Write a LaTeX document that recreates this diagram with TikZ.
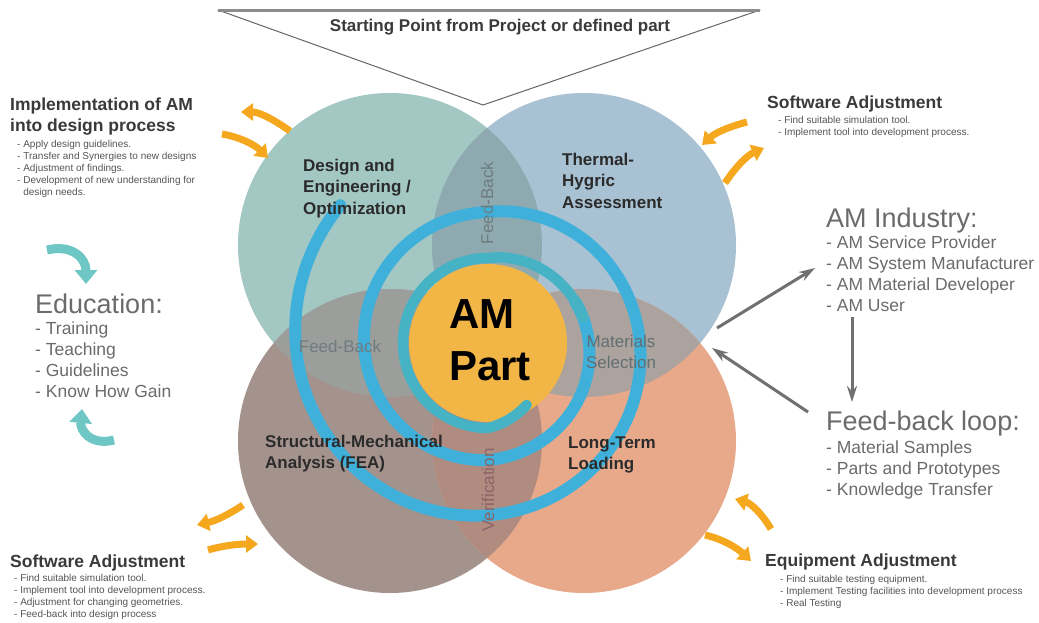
\documentclass[tikz,border=0pt]{standalone}
\usepackage{fontspec}
\setmainfont{Liberation Sans}
\usetikzlibrary{arrows.meta}
\definecolor{cTL}{HTML}{A3C8C4}
\definecolor{cTR}{HTML}{A8C2D3}
\definecolor{cBL}{HTML}{A4938D}
\definecolor{cBR}{HTML}{E8A98B}
\definecolor{cTLTR}{HTML}{8EAAB0}
\definecolor{cTLBL}{HTML}{9B9E9A}
\definecolor{cTRBR}{HTML}{ACA39F}
\definecolor{cBLBR}{HTML}{B08B80}
\definecolor{cOrange}{HTML}{F2B646}
\definecolor{cSpiral}{HTML}{3FB0DA}
\definecolor{cSpiralIn}{HTML}{46B3C4}
\definecolor{cYellow}{HTML}{F5A81E}
\definecolor{cTeal}{HTML}{6FC7C5}
\definecolor{cHead}{HTML}{3A3A3A}
\definecolor{cBullet}{HTML}{555555}
\definecolor{cBig}{HTML}{6B6B6B}
\definecolor{cLabel}{HTML}{2B2B2B}
\definecolor{cLens}{HTML}{6E7C80}
\definecolor{cArrow}{HTML}{707070}
\newcommand\toplines[1]{\begin{tabular}[t]{@{}l@{}}#1\end{tabular}}
\tikzset{
  heading/.style={anchor=base west, inner sep=0pt, text=cHead,
    font=\fontsize{17.5}{21}\selectfont\bfseries},
  bullets/.style={anchor=base west, inner sep=0pt, text=cBullet,
    font=\fontsize{10}{12}\selectfont},
  bigtitle/.style={anchor=base west, inner sep=0pt, text=cBig,
    font=\fontsize{27}{30}\selectfont},
  bigitems/.style={anchor=base west, inner sep=0pt, text=cBig,
    font=\fontsize{17.5}{21.3}\selectfont},
  circlabel/.style={anchor=base west, inner sep=0pt, text=cLabel,
    font=\fontsize{17}{21.5}\selectfont\bfseries},
  lenslabel/.style={inner sep=0pt, text=cLens, align=center,
    font=\fontsize{17}{21}\selectfont},
  yarrow/.style={draw=cYellow, line width=7pt,
    -{Triangle[width=17pt,length=12pt]}},
  tarrow/.style={draw=cTeal, line width=9pt,
    -{Triangle[width=22pt,length=14pt]}},
  garrow/.style={draw=cArrow, line width=3pt,
    -{Stealth[width=10pt,length=16pt]}},
  spiralline/.style={line width=12pt, line cap=round, line join=round},
}
\begin{document}
\begin{tikzpicture}[x=1pt,y=-1pt,
  declare function={sr(\t)=ifthenelse(\t<360, 202-0.2242*(\t-137),
     ifthenelse(\t<450, 152-0.2333*(\t-360),
     ifthenelse(\t<630, 131-0.0778*(\t-450),
     ifthenelse(\t<810, 117-0.1778*(\t-630),
     ifthenelse(\t<990, 85, 85-0.375*(\t-990))))));}]
\useasboundingbox (0,0) rectangle (1039,622);
\fill[white] (0,0) rectangle (1039,622);

% four circles
\coordinate (TL) at (390,245);
\coordinate (TR) at (584,245);
\coordinate (BL) at (390,441);
\coordinate (BR) at (584,441);
\fill[cTL] (TL) circle[radius=152];
\fill[cTR] (TR) circle[radius=152];
\fill[cBL] (BL) circle[radius=152];
\fill[cBR] (BR) circle[radius=152];
\begin{scope}\clip (TL) circle[radius=152]; \fill[cTLTR] (TR) circle[radius=152];\end{scope}
\begin{scope}\clip (TL) circle[radius=152]; \fill[cTLBL] (BL) circle[radius=152];\end{scope}
\begin{scope}\clip (TR) circle[radius=152]; \fill[cTRBR] (BR) circle[radius=152];\end{scope}
\begin{scope}\clip (BL) circle[radius=152]; \fill[cBLBR] (BR) circle[radius=152];\end{scope}

% triangle
\coordinate (triL) at (218,10);
\coordinate (triR) at (760,10);
\coordinate (triT) at (483,105);
\fill[white] (triL) -- (triR) -- (triT) -- cycle;
\draw[draw=black!60, line width=1pt, line join=round] (triL) -- (triR) -- (triT) -- cycle;
\draw[draw=black!45, line width=3pt] (triL) -- (triR);
\node[inner sep=0pt, text=cHead, font=\fontsize{17}{20}\selectfont\bfseries] (start) at (500,27) {Starting Point from Project or defined part};

% AM part circle
\coordinate (C) at (488,343);
\fill[cOrange] (C) circle[radius=79];

% spiral
\draw[spiralline, draw=cSpiral] plot[domain=137:745, samples=300, variable=\t]
  ({488+sr(\t)*cos(\t)}, {343-sr(\t)*sin(\t)});
\draw[spiralline, line width=10.5pt, draw=cSpiralIn] plot[domain=735:1022, samples=150, variable=\t]
  ({488+sr(\t)*cos(\t)}, {343-sr(\t)*sin(\t)});

% lens labels
\node[lenslabel, rotate=90] (fbv) at (487,203) {Feed-Back};
\node[lenslabel] (fbh) at (340,346) {Feed-Back};
\node[lenslabel, text=cLens!90!black] (mat) at (621,352) {Materials\\Selection};
\node[lenslabel, rotate=90, text=cLens!80!red] (ver) at (488,490) {Verification};

% AM Part text
\node[anchor=base west, inner sep=0pt, font=\fontsize{42}{52}\selectfont\bfseries] (ampart) at (449,328) {\toplines{AM\\Part}};

% circle labels
\node[circlabel] (design) at (303,171) {\toplines{Design and\\Engineering /\\Optimization}};
\node[circlabel] (thermal) at (562,165) {\toplines{Thermal-\\Hygric\\Assessment}};
\node[circlabel] (struct) at (265,447) {\toplines{Structural-Mechanical\\Analysis (FEA)}};
\node[circlabel] (longterm) at (568,448) {\toplines{Long-Term\\Loading}};

% side texts
\node[heading] (implH) at (10,110) {\toplines{Implementation of AM\\into design process}};
\node[bullets] (implB) at (17,147) {\toplines{- Apply design guidelines.\\- Transfer and Synergies to new designs\\- Adjustment of findings.\\- Development of new understanding for\\\phantom{- }design needs.}};

\node[heading] (swtH) at (767,108) {Software Adjustment};
\node[bullets] (swtB) at (778,123) {\toplines{- Find suitable simulation tool.\\- Implement tool into development process.}};

\node[heading] (swbH) at (10,567) {Software Adjustment};
\node[bullets] (swbB) at (14,581) {\toplines{- Find suitable simulation tool.\\- Implement tool into development process.\\- Adjustment for changing geometries.\\- Feed-back into design process}};

\node[heading] (eqH) at (765,566) {Equipment Adjustment};
\node[bullets] (eqB) at (780,582) {\toplines{- Find suitable testing equipment.\\- Implement Testing facilities into development process\\- Real Testing}};

\node[bigtitle] (eduH) at (35,313) {Education:};
\node[bigitems] (eduB) at (35,334) {\toplines{- Training\\- Teaching\\- Guidelines\\- Know How Gain}};

\node[bigtitle] (indH) at (826,227) {AM Industry:};
\node[bigitems] (indB) at (826,248) {\toplines{- AM Service Provider\\- AM System Manufacturer\\- AM Material Developer\\- AM User}};

\node[bigtitle] (fbH) at (826,430) {Feed-back loop:};
\node[bigitems] (fbB) at (826,453) {\toplines{- Material Samples\\- Parts and Prototypes\\- Knowledge Transfer}};

% gray arrows
\coordinate (g1s) at (717,328);
\coordinate (g1e) at (815,268);
\coordinate (g2s) at (808,412);
\coordinate (g2e) at (712,348);
\coordinate (g3s) at (852,317);
\coordinate (g3e) at (852,402);
\draw[garrow] (g1s) -- (g1e);
\draw[garrow] (g2s) -- (g2e);
\draw[garrow] (g3s) -- (g3e);

% teal education arrows
\coordinate (t1s) at (47,250);
\coordinate (t1e) at (86,284);
\coordinate (t2s) at (114,440);
\coordinate (t2e) at (82,409);
\draw[tarrow] (t1s) .. controls (72,244) and (86,258) .. (t1e);
\draw[tarrow] (t2s) .. controls (90,446) and (80,430) .. (t2e);

% yellow arrows
\coordinate (yAs) at (290,131); \coordinate (yAe) at (241,112);
\coordinate (yBs) at (222,134); \coordinate (yBe) at (268,158);
\coordinate (yCs) at (747,122); \coordinate (yCe) at (702,145);
\coordinate (yDs) at (725,183); \coordinate (yDe) at (764,148);
\coordinate (yEs) at (243,505); \coordinate (yEe) at (197,525);
\coordinate (yFs) at (208,550); \coordinate (yFe) at (258,544);
\coordinate (yGs) at (771,529); \coordinate (yGe) at (735,499);
\coordinate (yHs) at (705,535); \coordinate (yHe) at (751,561);
\draw[yarrow] (yAs) .. controls (270,117) and (258,112) .. (yAe);
\draw[yarrow] (yBs) .. controls (240,137) and (255,145) .. (yBe);
\draw[yarrow] (yCs) .. controls (728,127) and (715,133) .. (yCe);
\draw[yarrow] (yDs) .. controls (737,165) and (748,155) .. (yDe);
\draw[yarrow] (yEs) .. controls (228,515) and (215,521) .. (yEe);
\draw[yarrow] (yFs) .. controls (225,545) and (240,544) .. (yFe);
\draw[yarrow] (yGs) .. controls (761,512) and (750,503) .. (yGe);
\draw[yarrow] (yHs) .. controls (722,539) and (736,547) .. (yHe);
\end{tikzpicture}
\end{document}
